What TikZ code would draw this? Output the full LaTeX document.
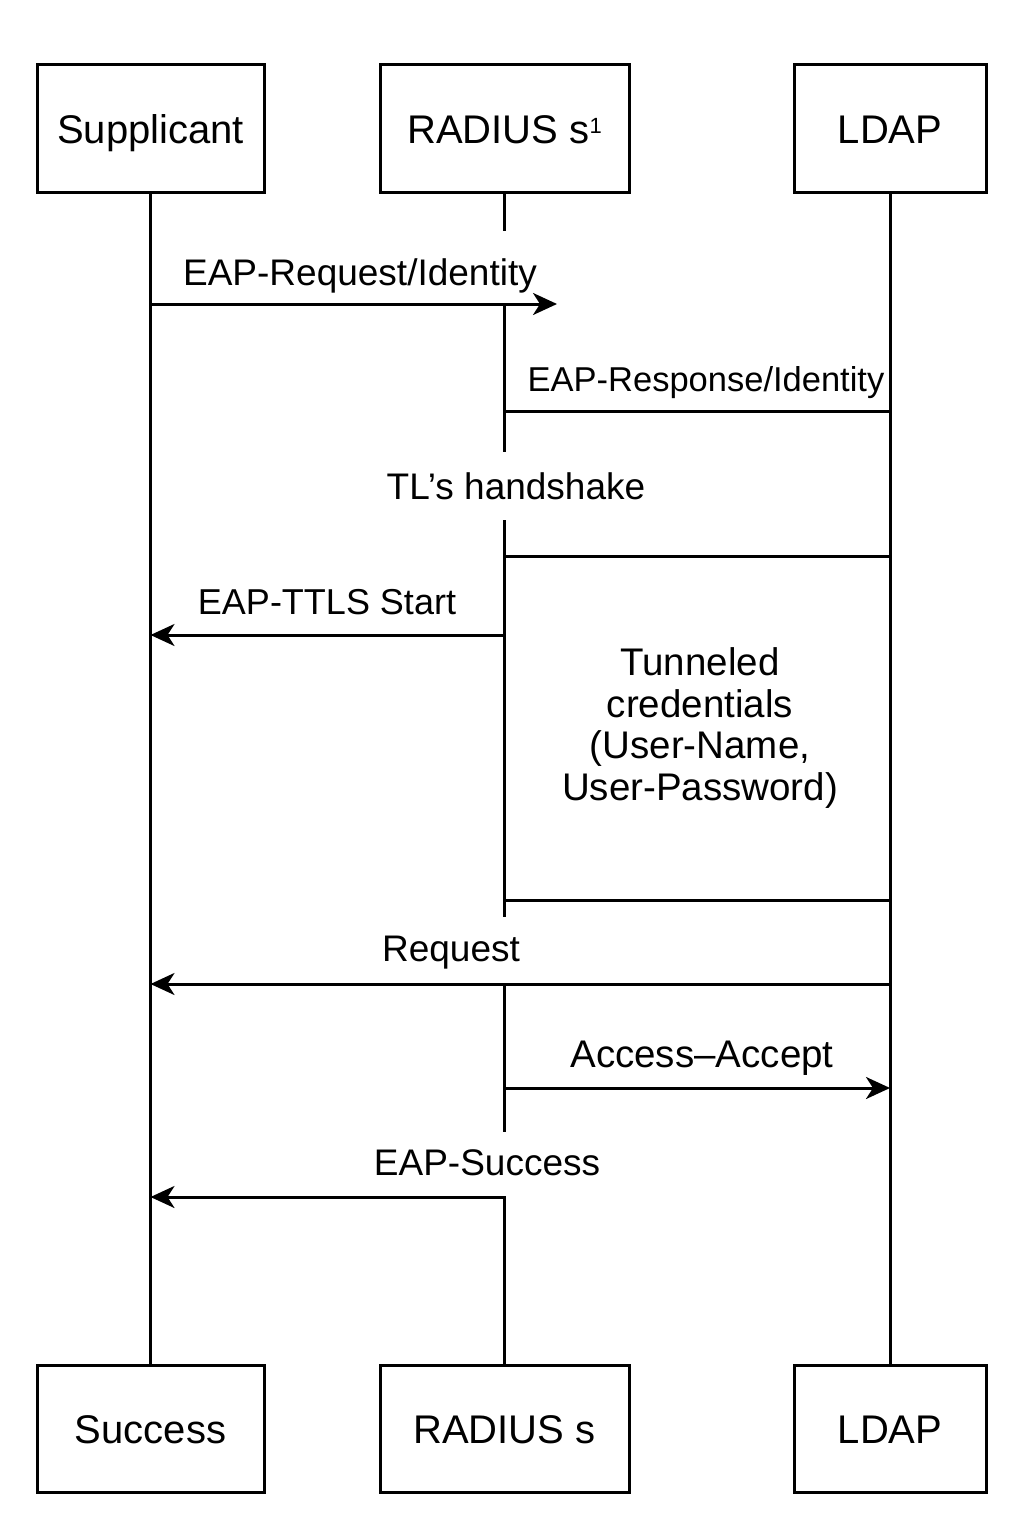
\documentclass[tikz,border=0pt]{standalone}
\usepackage{fontspec}
\setmainfont{Liberation Sans}
\usetikzlibrary{arrows.meta}
\begin{document}
\begin{tikzpicture}[x=1pt,y=-1pt,
  actor/.style={draw,line width=3pt,minimum height=127pt,inner sep=0pt,text height=29pt,text depth=0pt,font=\fontsize{40}{44}\selectfont},
  msg/.style={anchor=base,inner sep=0pt,font=\fontsize{37}{42}\selectfont},
  life/.style={line width=3pt},
  arr/.style={line width=3pt,-{Stealth[length=24pt,width=22pt,inset=7pt]}}]
\useasboundingbox (0,0) rectangle (1024,1536);
% top boxes
\node[actor,minimum width=227pt] (sup) at (150.5,128.5) {Supplicant};
\node[actor,minimum width=249pt] (rad) at (504.5,128.5) {RADIUS s\raisebox{10pt}{\fontsize{22}{22}\selectfont 1}\hspace{8pt}};
\node[actor,minimum width=192pt] (ldap) at (890,128.5) {LDAP};
% bottom boxes
\node[actor,minimum width=227pt] (supB) at (150.5,1428.5) {Success};
\node[actor,minimum width=249pt] (radB) at (504.5,1428.5) {RADIUS s};
\node[actor,minimum width=192pt] (ldapB) at (890,1428.5) {LDAP};
% lifelines
\draw[life] (sup.south) -- (supB.north);
\draw[life] (ldap.south) -- (ldapB.north);
\coordinate (m1) at (504.5,231);
\coordinate (m2) at (504.5,304);
\coordinate (m3) at (504.5,452);
\coordinate (m4) at (504.5,520);
\coordinate (m5) at (504.5,917);
\coordinate (m6) at (504.5,984);
\coordinate (m7) at (504.5,1132);
\coordinate (m8) at (504.5,1197);
\draw[life] (rad.south) -- (m1);
\draw[life] (m2) -- (m3);
\draw[life] (m4) -- (m5);
\draw[life] (m6) -- (m7);
% message points
\coordinate (a1s) at (150.5,304);
\coordinate (a1e) at (557,304);
\coordinate (r1) at (504.5,411);
\coordinate (l1) at (890,411);
\coordinate (r2) at (504.5,556);
\coordinate (l2) at (890,556);
\coordinate (r3) at (504.5,635);
\coordinate (s3) at (150.5,635);
\coordinate (r4) at (504.5,900);
\coordinate (l4) at (890,900);
\coordinate (l5) at (890,984);
\coordinate (s5) at (150.5,984);
\coordinate (r6) at (504.5,1088);
\coordinate (l6) at (890,1088);
\coordinate (s7) at (150.5,1197);
% messages
\draw[arr] (a1s) -- (a1e);
\node[msg] (t1) at (360,285) {EAP-Request/Identity};
\draw[life] (r1) -- (l1);
\node[msg,font=\fontsize{34.5}{40}\selectfont] (t2) at (706,391) {EAP-Response/Identity};
\node[msg] (t3) at (516,499) {TL’s handshake};
\draw[life] (r2) -- (l2);
\draw[arr] (r3) -- (s3);
\node[msg,font=\fontsize{36}{40}\selectfont] (t4) at (327,614) {EAP-TTLS Start};
\node[inner sep=0pt,align=center,font=\fontsize{38.5}{41.5}\selectfont] (t5) at (700,728)
  {Tunneled\\credentials\\(User-Name,\\User-Password)};
\draw[life] (r4) -- (l4);
\draw[arr] (l5) -- (s5);
\node[msg] (t6) at (451,961) {Request};
\draw[arr] (r6) -- (l6);
\node[msg,font=\fontsize{38.5}{42}\selectfont] (t7) at (702,1067) {Access–Accept};
\draw[arr] (radB.north) -- (m8) -- (s7);
\node[msg] (t8) at (487,1175) {EAP-Success};
\end{tikzpicture}
\end{document}
